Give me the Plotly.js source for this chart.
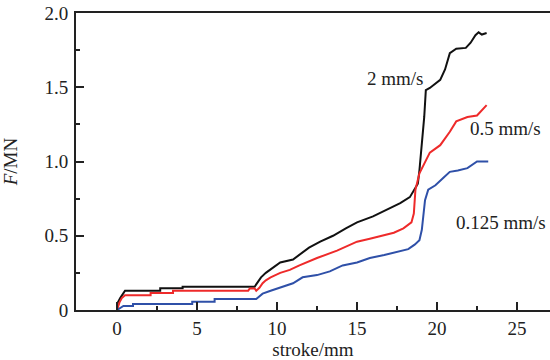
<!DOCTYPE html>
<html>
<head>
<meta charset="utf-8">
<script src="https://cdn.plot.ly/plotly-3.0.1.min.js"></script>
<style>html,body{margin:0;padding:0;background:#fff;}#chart{width:550px;height:360px;}</style>
</head>
<body>
<div id="chart"></div>
<script>
// 2 mm/s
const x2 = [0, 0.05, 0.2, 0.35, 0.5, 2.7, 2.7, 4.1, 4.1, 8.6, 8.8, 9.0, 9.3, 9.7, 10.2, 11.0, 11.5, 12.0, 12.7, 13.5, 14.3, 15.0, 16.0, 17.0, 17.7, 18.3, 18.6, 18.8, 18.9, 19.05, 19.2, 19.3, 19.55, 20.2, 20.5, 20.8, 21.2, 21.8, 22.1, 22.4, 22.6, 22.8, 23.1];
const y2 = [0, 0.05, 0.08, 0.11, 0.13, 0.13, 0.146, 0.146, 0.157, 0.157, 0.19, 0.22, 0.25, 0.28, 0.32, 0.34, 0.38, 0.42, 0.46, 0.5, 0.55, 0.59, 0.63, 0.68, 0.72, 0.76, 0.81, 0.85, 0.94, 1.1, 1.3, 1.48, 1.495, 1.55, 1.62, 1.73, 1.76, 1.765, 1.80, 1.85, 1.87, 1.855, 1.865];
// 0.5 mm/s
const x05 = [0, 0.15, 0.3, 0.5, 2.1, 2.1, 3.5, 3.5, 8.2, 8.3, 8.6, 8.7, 8.9, 9.1, 9.3, 9.6, 10.2, 10.8, 11.4, 12.5, 13.75, 15.0, 15.8, 16.6, 17.3, 17.9, 18.4, 18.55, 18.65, 18.9, 19.25, 19.55, 20.2, 20.8, 21.2, 21.9, 22.5, 23.1];
const y05 = [0, 0.05, 0.08, 0.10, 0.10, 0.115, 0.115, 0.13, 0.13, 0.145, 0.145, 0.13, 0.15, 0.18, 0.2, 0.22, 0.25, 0.27, 0.30, 0.35, 0.40, 0.46, 0.48, 0.50, 0.52, 0.55, 0.59, 0.65, 0.81, 0.92, 0.99, 1.06, 1.11, 1.2, 1.27, 1.30, 1.31, 1.38];
// 0.125 mm/s
const x0125 = [0, 0.2, 0.4, 1.0, 1.0, 4.7, 4.7, 6.1, 6.1, 8.7, 8.9, 9.1, 9.6, 10.2, 11.0, 11.6, 12.5, 13.3, 14.1, 15.0, 15.8, 16.7, 17.5, 18.2, 18.6, 18.9, 19.05, 19.15, 19.25, 19.45, 19.9, 20.4, 20.8, 21.3, 21.9, 22.5, 23.2];
const y0125 = [0, 0.015, 0.027, 0.027, 0.04, 0.04, 0.056, 0.056, 0.074, 0.074, 0.09, 0.11, 0.13, 0.15, 0.18, 0.22, 0.235, 0.26, 0.30, 0.32, 0.35, 0.37, 0.39, 0.41, 0.44, 0.47, 0.54, 0.65, 0.74, 0.81, 0.84, 0.89, 0.93, 0.94, 0.955, 1.0, 1.0];

const seriesNames = ["2 mm/s", "0.5 mm/s", "0.125 mm/s"];
const xTicks = [0, 5, 10, 15, 20, 25];
const xTickText = ["0", "5", "10", "15", "20", "25"];
const yTicks = [0, 0.5, 1.0, 1.5, 2.0];
const yTickText = ["0", "0.5", "1.0", "1.5", "2.0"];

const font = "Liberation Serif, Times New Roman, serif";

const traces = [
  {x: x2, y: y2, mode: "lines", line: {color: "#111111", width: 2}, name: seriesNames[0]},
  {x: x05, y: y05, mode: "lines", line: {color: "#ee2a2a", width: 2}, name: seriesNames[1]},
  {x: x0125, y: y0125, mode: "lines", line: {color: "#2f50a8", width: 2}, name: seriesNames[2]}
];

const layout = {
  width: 550, height: 360,
  margin: {l: 76, r: 0, t: 13, b: 50},
  paper_bgcolor: "#ffffff", plot_bgcolor: "#ffffff",
  showlegend: false,
  font: {family: font, size: 19, color: "#222"},
  xaxis: {
    range: [-2.5625, 27.06],
    tickmode: "array", tickvals: xTicks, ticktext: xTickText,
    ticks: "inside", ticklen: 8, tickwidth: 2, tickcolor: "#222",
    minor: {ticks: "inside", ticklen: 4, tickwidth: 2, tickcolor: "#222", tickmode: "array", tickvals: [2.5, 7.5, 12.5, 17.5, 22.5]},
    showline: true, linecolor: "#222", linewidth: 2, mirror: true,
    showgrid: false, zeroline: false,
    tickfont: {family: font, size: 19, color: "#222"},
    title: {text: "stroke/mm", font: {family: font, size: 19, color: "#222"}, standoff: 2}
  },
  yaxis: {
    range: [0, 2.0],
    tickmode: "array", tickvals: yTicks, ticktext: yTickText,
    ticks: "inside", ticklen: 8, tickwidth: 2, tickcolor: "#222",
    minor: {ticks: "inside", ticklen: 4, tickwidth: 2, tickcolor: "#222", tickmode: "array", tickvals: [0.25, 0.75, 1.25, 1.75]},
    showline: true, linecolor: "#222", linewidth: 2, mirror: false,
    showgrid: false, zeroline: false,
    tickfont: {family: font, size: 19, color: "#222"},
    ticklabelstandoff: 2,
    title: {text: "<i>F</i>/MN", font: {family: font, size: 19, color: "#222"}, standoff: 22}
  },
  annotations: [
    {x: 17.4, y: 1.56, text: seriesNames[0], showarrow: false, font: {family: font, size: 19, color: "#222"}},
    {x: 24.25, y: 1.225, text: seriesNames[1], showarrow: false, font: {family: font, size: 19, color: "#222"}},
    {x: 24.0, y: 0.59, text: seriesNames[2], showarrow: false, font: {family: font, size: 19, color: "#222"}}
  ]
};

Plotly.newPlot("chart", traces, layout, {staticPlot: true, displayModeBar: false});
</script>
</body>
</html>
